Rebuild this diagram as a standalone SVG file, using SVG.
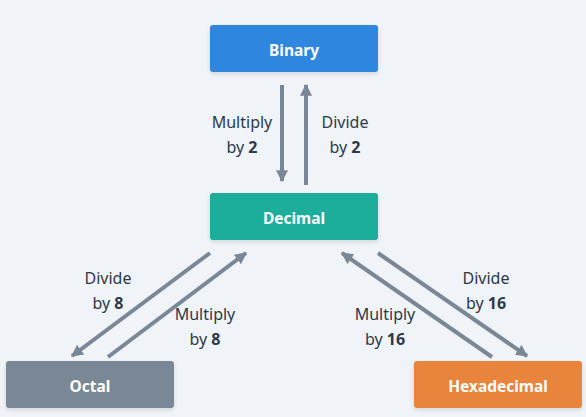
<svg xmlns="http://www.w3.org/2000/svg" width="586" height="417" viewBox="0 0 586 417">
<defs>
<marker id="ah" viewBox="0 0 10 10" refX="9" refY="5" markerWidth="3" markerHeight="3" orient="auto" markerUnits="strokeWidth">
<path d="M0,0 L10,5 L0,10 z" fill="#7a8796"/>
</marker>
<filter id="sh" x="-10%" y="-20%" width="120%" height="150%">
<feDropShadow dx="0" dy="2" stdDeviation="2" flood-color="#000" flood-opacity="0.12"/>
</filter>
</defs>
<style>
.node text{font-family:"Noto Sans","Open Sans",sans-serif;font-weight:700;font-size:15.5px;fill:#ffffff;text-anchor:middle}
.lbl{font-family:"Noto Sans","Open Sans",sans-serif;font-size:16px;fill:#2c3a4a;text-anchor:middle}
.lbl tspan.b{font-weight:700}
.conn line{stroke:#7a8796;stroke-width:4;marker-end:url(#ah)}
</style>
<rect width="586" height="417" fill="#f0f3f7"/>
<g class="conn" id="connectors">
<line x1="282" y1="85" x2="282" y2="181"/>
<line x1="306" y1="185" x2="306" y2="85"/>
<line x1="210" y1="253" x2="72" y2="356"/>
<line x1="108" y1="357" x2="246" y2="253"/>
<line x1="492" y1="357" x2="342" y2="253"/>
<line x1="378" y1="253" x2="527" y2="356"/>
</g>
<g class="node" id="binary">
<rect x="210" y="25" width="168" height="47" rx="3" fill="#2e86de" filter="url(#sh)"/>
<text x="294" y="55.5">Binary</text>
</g>
<g class="node" id="decimal">
<rect x="210" y="193" width="168" height="47" rx="3" fill="#1aae9b" filter="url(#sh)"/>
<text x="294" y="223.5">Decimal</text>
</g>
<g class="node" id="octal">
<rect x="6" y="361" width="168" height="47" rx="3" fill="#7a8796" filter="url(#sh)"/>
<text x="90" y="391.5">Octal</text>
</g>
<g class="node" id="hexadecimal">
<rect x="414" y="361" width="168" height="47" rx="3" fill="#e8843a" filter="url(#sh)"/>
<text x="498" y="391.5">Hexadecimal</text>
</g>
<g id="labels">
<text class="lbl" x="242" y="128">Multiply</text>
<text class="lbl" x="242" y="153">by <tspan class="b">2</tspan></text>
<text class="lbl" x="345" y="128">Divide</text>
<text class="lbl" x="345" y="153">by <tspan class="b">2</tspan></text>
<text class="lbl" x="108" y="284">Divide</text>
<text class="lbl" x="108" y="309">by <tspan class="b">8</tspan></text>
<text class="lbl" x="205" y="320">Multiply</text>
<text class="lbl" x="205" y="345">by <tspan class="b">8</tspan></text>
<text class="lbl" x="486" y="284">Divide</text>
<text class="lbl" x="486" y="309">by <tspan class="b">16</tspan></text>
<text class="lbl" x="385" y="320">Multiply</text>
<text class="lbl" x="385" y="345">by <tspan class="b">16</tspan></text>
</g>
</svg>
